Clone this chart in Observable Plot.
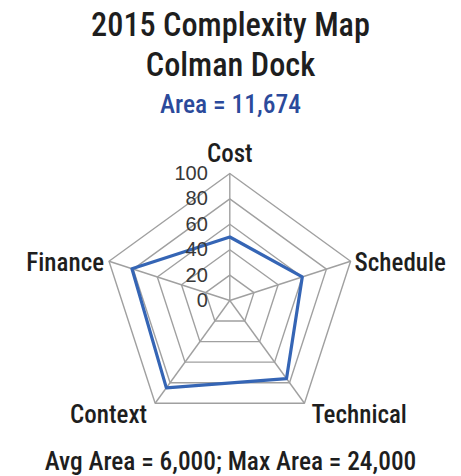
<!DOCTYPE html>
<html><head><meta charset="utf-8">
<script src="https://cdn.jsdelivr.net/npm/d3@7"></script>
<script src="https://cdn.jsdelivr.net/npm/@observablehq/plot@0.6"></script>
<style>
body{margin:0;background:#fff;width:461px;height:476px;position:relative;overflow:hidden;
 font-family:"Liberation Sans Narrow","Roboto Condensed","DejaVu Sans Condensed",sans-serif;color:#1e1e1e;font-weight:500}
.abs{position:absolute;left:0;width:461px;text-align:center;white-space:nowrap}
#title{top:5px;font-size:32.3px;line-height:40px}
#area{top:89px;font-size:25.5px;line-height:30px;color:#2b4a9b}
#chart{top:125px}
#cap{top:446px;font-size:25.4px;line-height:30px}
</style></head><body>
<div id="title" class="abs"></div>
<div id="area" class="abs"></div>
<div id="chart" class="abs"></div>
<div id="cap" class="abs"></div>
<script>
const titleLines = ["2015 Complexity Map", "Colman Dock"];
const areaText = "Area = 11,674";
const captionText = "Avg Area = 6,000; Max Area = 24,000";
const axes = ["Cost", "Schedule", "Technical", "Context", "Finance"];
const values = [50, 60, 76, 85, 81];
const ringLevels = [20, 40, 60, 80, 100];
const tickLabels = ["0", "20", "40", "60", "80", "100"];

document.getElementById("title").innerHTML = titleLines.join("<br>");
document.getElementById("area").textContent = areaText;
document.getElementById("cap").textContent = captionText;

const n = axes.length;
const ang = i => i * 2 * Math.PI / n;
const pt = (r, i) => ({x: r * Math.sin(ang(i)), y: r * Math.cos(ang(i))});

const rings = ringLevels.flatMap(level => axes.map((a, i) => ({level, ...pt(level, i)})));
const spokes = axes.map((a, i) => ({axis: a, ...pt(100, i)}));
const series = values.map((v, i) => ({axis: axes[i], value: v, ...pt(v, i)}));

const labelOpts = {
  Cost: {textAnchor: "middle", dx: 0, dy: -20},
  Schedule: {textAnchor: "start", dx: 4, dy: 2},
  Technical: {textAnchor: "start", dx: 7, dy: 12},
  Context: {textAnchor: "end", dx: -8, dy: 12},
  Finance: {textAnchor: "end", dx: -5, dy: 2}
};

const W = 461, H = 320, cx = 229.3, cy = 175, R = 127;
const gridColor = "#a0a0a0";
const font = '"Liberation Sans Narrow","Roboto Condensed","DejaVu Sans Condensed",sans-serif';
const chart = Plot.plot({
  width: W, height: H,
  margin: 0,
  x: {domain: [-cx / R * 100, (W - cx) / R * 100], axis: null},
  y: {domain: [-(H - cy) / R * 100, cy / R * 100], axis: null},
  style: {fontFamily: font, background: "transparent"},
  marks: [
    Plot.line(rings, {x: "x", y: "y", z: "level", curve: "linear-closed", stroke: gridColor, strokeWidth: 1.4}),
    Plot.link(spokes, {x1: () => 0, y1: () => 0, x2: "x", y2: "y", stroke: gridColor, strokeWidth: 1.4}),
    Plot.line(series, {x: "x", y: "y", curve: "linear-closed", stroke: "#3565b5", strokeWidth: 3.2}),
    Plot.text(tickLabels, {x: () => 0, y: d => +d, text: d => d, textAnchor: "end", dx: -22, fontSize: 20, fontWeight: 400, fill: "#383838", lineAnchor: "middle", fontFamily: '"Liberation Sans", Arial, sans-serif'}),
    ...axes.map((a, i) => Plot.text([spokes[i]], {x: "x", y: "y", text: "axis", fontSize: 25, fontWeight: 500, fill: "#1e1e1e", lineAnchor: "middle", ...labelOpts[a]}))
  ]
});
document.getElementById("chart").appendChild(chart);
</script>
</body></html>
